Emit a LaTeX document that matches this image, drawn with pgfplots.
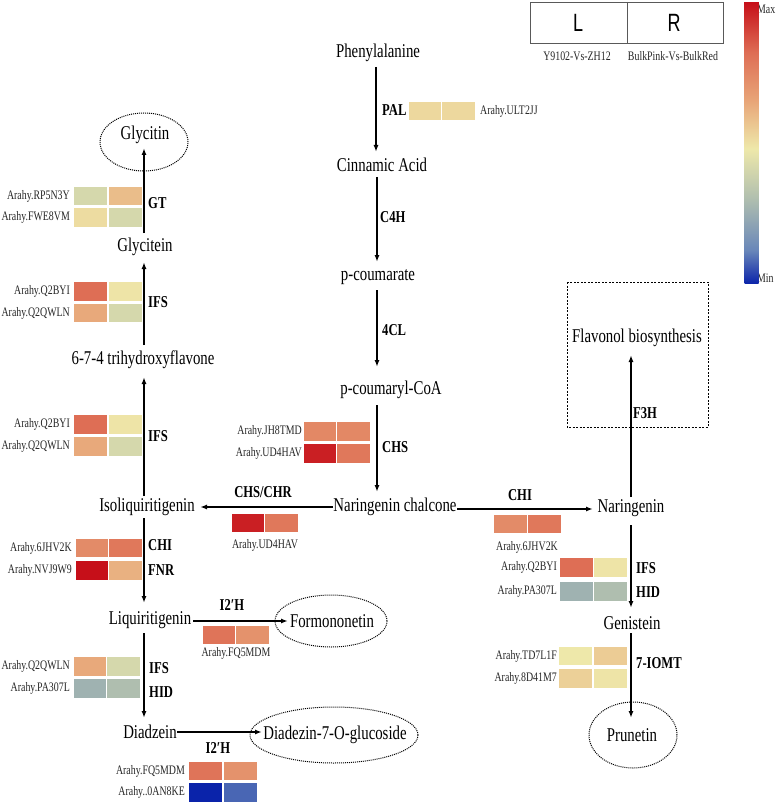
\documentclass[border=0pt]{standalone}
\usepackage{pgfplots}
\pgfplotsset{compat=1.18}
\usepackage{fontspec}
\setmainfont{Liberation Serif}[FakeStretch=0.76]
\newfontfamily\lsans{Liberation Sans}[FakeStretch=0.72]
\usetikzlibrary{arrows.meta}
\begin{document}
\begin{tikzpicture}[
  cmp/.style={font=\fontsize{19.5bp}{21bp}\selectfont, inner sep=0pt},
  enz/.style={font=\fontsize{16.6bp}{18bp}\selectfont\bfseries, inner sep=0pt},
  gene/.style={font=\fontsize{13bp}{14bp}\selectfont, inner sep=0pt, text=black!85},
  arr/.style={line width=1.4bp, -{Latex[length=7bp,width=5bp]}, black},
  ell/.style={densely dotted, line width=1bp}
]
\begin{axis}[
  width=777bp, height=804bp, scale only axis,
  xmin=0, xmax=777, ymin=0, ymax=804, y dir=reverse,
  hide axis, clip=false,
  colormap={pw}{rgb255(0cm)=(10,35,170); rgb255(1.2cm)=(105,135,185); rgb255(3cm)=(175,190,175); rgb255(4.8cm)=(238,232,170); rgb255(6.5cm)=(232,165,120); rgb255(8.2cm)=(222,110,85); rgb255(10cm)=(198,15,25)},
  point meta min=0, point meta max=1,
  colorbar,
  colorbar style={y dir=normal, at={(parent axis.north east)}, anchor=north east,
    xshift=-22bp, yshift=-2bp, width=19bp, height=282bp, scale only axis,
    ytick=\empty, xtick=\empty, axis line style={draw=none}},
]
% heat-map cells (pixel x, pixel y from top, scaled value 0=Min .. 1=Max)
\addplot[scatter, only marks, mark=square*, mark size=9.6bp,
  scatter/use mapped color={draw=white, fill=mapped color},
  every mark/.append style={xscale=1.77, line width=0.9bp},
  point meta=explicit] table[meta=v] {
x y v
425 111 0.52
458 111 0.52
90 196 0.41
125 196 0.59
90 217.5 0.51
125 217.5 0.41
90 291.5 0.82
125 291.5 0.49
90 313 0.64
125 313 0.41
90 424.5 0.82
125 424.5 0.49
90 446.5 0.64
125 446.5 0.41
320 431.5 0.74
353 431.5 0.74
320 453.5 0.97
353 453.5 0.79
248 523 0.97
281 523 0.79
92 548 0.73
125 548 0.79
92 570.5 1.0
125 570.5 0.62
219 635 0.8
252 635 0.71
90 666.5 0.64
123 666.5 0.41
90 688.5 0.26
123 688.5 0.3
205 771 0.8
240 771 0.71
205 792.5 0.0
240 792.5 0.08
510 524 0.73
544 524 0.79
576 567.5 0.82
610 567.5 0.49
576 591.5 0.26
610 591.5 0.3
575 656 0.48
610 656 0.55
575 678.5 0.54
610 678.5 0.49
};
% arrows
\addplot[arr] coordinates {(376,67) (376,152)};
\addplot[arr] coordinates {(377,177) (377,262)};
\addplot[arr] coordinates {(377,290) (377,367)};
\addplot[arr] coordinates {(377,405) (377,492)};
\addplot[arr] coordinates {(333,507) (200,507)};
\addplot[arr] coordinates {(457,509) (593,509)};
\addplot[arr] coordinates {(631,497) (631,355)};
\addplot[arr] coordinates {(631,525) (631,608)};
\addplot[arr] coordinates {(631,633) (631,718)};
\addplot[arr] coordinates {(144,496) (144,377)};
\addplot[arr] coordinates {(144,345) (144,262)};
\addplot[arr] coordinates {(144,233) (144,148)};
\addplot[arr] coordinates {(144,518) (144,603)};
\addplot[arr] coordinates {(144,633) (144,718)};
\addplot[arr] coordinates {(193,621) (288,621)};
\addplot[arr] coordinates {(177,732) (262,732)};
% ellipses and boxes
\draw[ell] (axis cs:144,142) ellipse [x radius=44bp, y radius=29bp];
\draw[ell] (axis cs:331,621) ellipse [x radius=56bp, y radius=26bp];
\draw[ell] (axis cs:334,735) ellipse [x radius=84bp, y radius=28bp];
\draw[ell] (axis cs:633,735) ellipse [x radius=44bp, y radius=33bp];
\draw[dash pattern=on 2bp off 1.5bp, line width=0.9bp] (axis cs:567,282) rectangle (axis cs:708,427);
\draw[line width=0.8bp, black!65] (axis cs:530,2) rectangle (axis cs:723,43);
\draw[line width=0.8bp, black!65] (axis cs:627,2) -- (axis cs:627,43);
% legend texts
\node[font=\lsans\fontsize{25bp}{27bp}\selectfont] at (axis cs:578,23) {L};
\node[font=\lsans\fontsize{25bp}{27bp}\selectfont] at (axis cs:674,23) {R};
\node[gene] at (axis cs:577,56) {Y9102-Vs-ZH12};
\node[gene] at (axis cs:673,56) {BulkPink-Vs-BulkRed};
\node[gene, anchor=west] at (axis cs:757,9) {Max};
\node[gene, anchor=west] at (axis cs:757,278) {Min};
% compounds
\node[cmp] at (axis cs:378,53) {Phenylalanine};
\node[cmp] at (axis cs:382,165) {Cinnamic Acid};
\node[cmp] at (axis cs:378,277) {p-coumarate};
\node[cmp] at (axis cs:391,390) {p-coumaryl-CoA};
\node[cmp] at (axis cs:395,507) {Naringenin chalcone};
\node[cmp] at (axis cs:631,508) {Naringenin};
\node[cmp] at (axis cs:632,623) {Genistein};
\node[cmp] at (axis cs:632,735) {Prunetin};
\node[cmp] at (axis cs:637,338) {Flavonol biosynthesis};
\node[cmp] at (axis cs:147,507) {Isoliquiritigenin};
\node[cmp] at (axis cs:143,360) {6-7-4 trihydroxyflavone};
\node[cmp] at (axis cs:145,247) {Glycitein};
\node[cmp] at (axis cs:145,135) {Glycitin};
\node[cmp] at (axis cs:150,620) {Liquiritigenin};
\node[cmp] at (axis cs:332,621) {Formononetin};
\node[cmp] at (axis cs:150,732) {Diadzein};
\node[cmp] at (axis cs:335,735) {Diadezin-7-O-glucoside};
% enzymes
\node[enz, anchor=west] at (axis cs:382,110) {PAL};
\node[enz, anchor=west] at (axis cs:380,217) {C4H};
\node[enz, anchor=west] at (axis cs:382,330) {4CL};
\node[enz, anchor=west] at (axis cs:382,447) {CHS};
\node[enz] at (axis cs:263,492) {CHS/CHR};
\node[enz] at (axis cs:520,495) {CHI};
\node[enz, anchor=west] at (axis cs:633,413) {F3H};
\node[enz, anchor=west] at (axis cs:636,568) {IFS};
\node[enz, anchor=west] at (axis cs:636,592) {HID};
\node[enz, anchor=west] at (axis cs:636,663) {7-IOMT};
\node[enz, anchor=west] at (axis cs:148,203) {GT};
\node[enz, anchor=west] at (axis cs:148,302) {IFS};
\node[enz, anchor=west] at (axis cs:148,436) {IFS};
\node[enz, anchor=west] at (axis cs:148,545) {CHI};
\node[enz, anchor=west] at (axis cs:148,570) {FNR};
\node[enz] at (axis cs:232,605) {I2′H};
\node[enz, anchor=west] at (axis cs:149,668) {IFS};
\node[enz, anchor=west] at (axis cs:149,692) {HID};
\node[enz] at (axis cs:218,748) {I2′H};
% genes
\node[gene, anchor=west] at (axis cs:480,111) {Arahy.ULT2JJ};
\node[gene, anchor=east] at (axis cs:70,196) {Arahy.RP5N3Y};
\node[gene, anchor=east] at (axis cs:70,217) {Arahy.FWE8VM};
\node[gene, anchor=east] at (axis cs:70,291) {Arahy.Q2BYI};
\node[gene, anchor=east] at (axis cs:70,313) {Arahy.Q2QWLN};
\node[gene, anchor=east] at (axis cs:70,424) {Arahy.Q2BYI};
\node[gene, anchor=east] at (axis cs:70,446) {Arahy.Q2QWLN};
\node[gene, anchor=east] at (axis cs:302,431) {Arahy.JH8TMD};
\node[gene, anchor=east] at (axis cs:302,453) {Arahy.UD4HAV};
\node[gene] at (axis cs:265,545) {Arahy.UD4HAV};
\node[gene, anchor=east] at (axis cs:72,548) {Arahy.6JHV2K};
\node[gene, anchor=east] at (axis cs:72,570) {Arahy.NVJ9W9};
\node[gene] at (axis cs:236,653) {Arahy.FQ5MDM};
\node[gene, anchor=east] at (axis cs:70,666) {Arahy.Q2QWLN};
\node[gene, anchor=east] at (axis cs:70,688) {Arahy.PA307L};
\node[gene, anchor=east] at (axis cs:185,771) {Arahy.FQ5MDM};
\node[gene, anchor=east] at (axis cs:185,792) {Arahy..0AN8KE};
\node[gene] at (axis cs:527,547) {Arahy.6JHV2K};
\node[gene, anchor=east] at (axis cs:557,567) {Arahy.Q2BYI};
\node[gene, anchor=east] at (axis cs:557,591) {Arahy.PA307L};
\node[gene, anchor=east] at (axis cs:557,656) {Arahy.TD7L1F};
\node[gene, anchor=east] at (axis cs:557,678) {Arahy.8D41M7};
\end{axis}
\pgfresetboundingbox
\path (0,0) rectangle (777bp,804bp);
\end{tikzpicture}
\end{document}
